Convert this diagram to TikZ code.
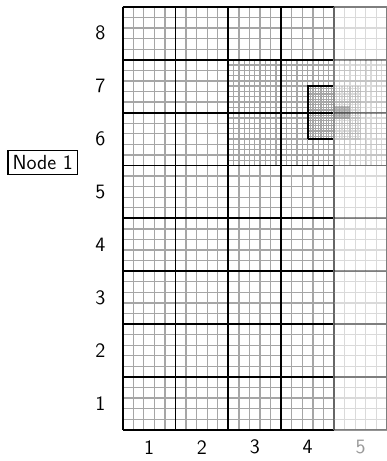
\documentclass[tikz,border=0pt]{standalone}
\begin{document}
\begin{tikzpicture}[
  font=\sffamily\fontsize{11}{13}\selectfont,
  minorgrid/.style={draw=black!35, line width=0.7pt},
  majorgrid/.style={draw=black, line width=1pt},
  lbl/.style={inner sep=1pt},
  boxnode/.style={draw=black, line width=0.6pt, inner sep=2.5pt}
]
\useasboundingbox (-2.32,-0.59) rectangle (4.99,8.13);
% main area
\draw[minorgrid, step=0.2] (0,0) grid (4,8);
\draw[minorgrid, step=0.1] (2,5) grid (4,7);
\draw[minorgrid, step=0.05] (3.5,5.5) grid (4,6.5);
\draw[majorgrid, step=1] (0,0) grid (4,8);
\draw[majorgrid] (3.5,5.5) -- (3.5,6.5) -- (4,6.5) (4,5.5) -- (3.5,5.5);
\draw[draw=black!60, line width=1pt] (4,0) -- (4,8);
% faded column 5
\begin{scope}[opacity=0.42]
\draw[minorgrid, step=0.2] (4,0) grid (5,8);
\draw[minorgrid, step=0.1] (4,5) grid (5,7);
\draw[minorgrid, step=0.05] (4,5.5) grid (4.5,6.5);
\fill[black!55] (4,5.87) rectangle (4.3,6.13);
\draw[majorgrid] (4,0) -- (5,0) (4,1) -- (5,1) (4,2) -- (5,2) (4,3) -- (5,3)
  (4,4) -- (5,4) (4,5) -- (5,5) (4,6) -- (5,6) (4,7) -- (5,7) (4,8) -- (5,8)
  (5,0) -- (5,8);
\end{scope}
% labels
\foreach \i in {1,...,4} \node[lbl] (c\i) at (\i-0.5,-0.33) {\i};
\node[lbl, text=black!40] (c5) at (4.5,-0.33) {5};
\foreach \j in {1,...,8} \node[lbl] (r\j) at (-0.42,\j-0.5) {\j};
\node[boxnode] (n1) at (-1.51,5.06) {Node 1};
\end{tikzpicture}
\end{document}
